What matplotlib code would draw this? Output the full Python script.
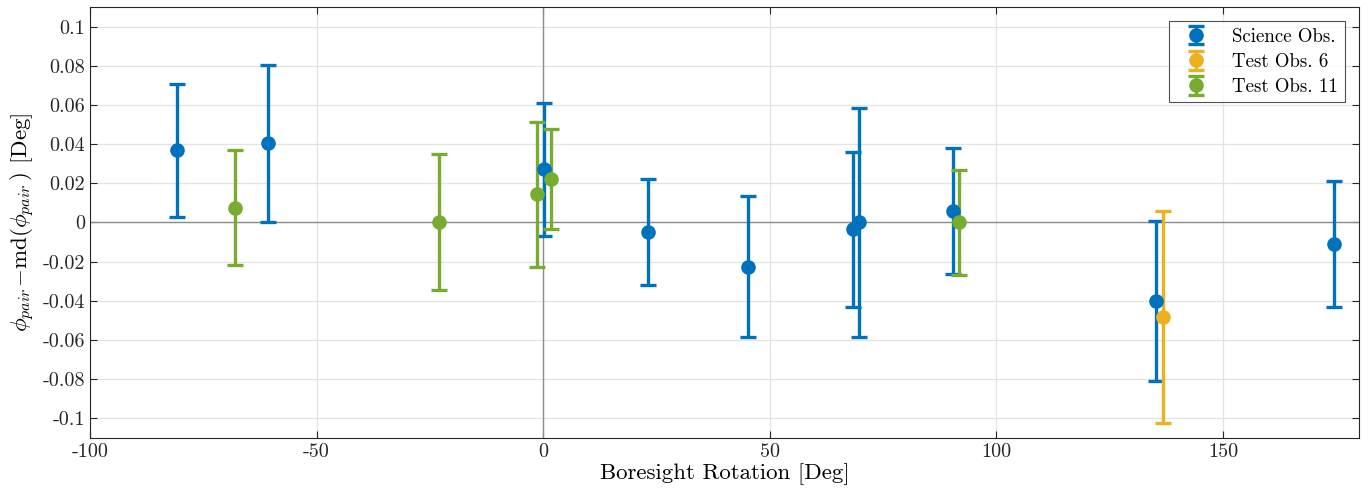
import numpy as np
import matplotlib
matplotlib.use('Agg')
import matplotlib.pyplot as plt
from matplotlib.ticker import FuncFormatter

# Residuals of the pair angle vs. boresight rotation, one array per observation set
sci_rot = [-80.9, -60.8, 0.2, 23.1, 45.2, 68.3, 69.7, 90.4, 135.3, 174.4]
sci_res = [0.0369, 0.0405, 0.0272, -0.0048, -0.0226, -0.0035, 0.0, 0.0058, -0.0400, -0.0110]
sci_err = [0.034, 0.040, 0.034, 0.027, 0.036, 0.0395, 0.0585, 0.032, 0.041, 0.032]

t6_rot = [136.8]
t6_res = [-0.0483]
t6_err = [0.054]

t11_rot = [-67.9, -22.9, -1.4, 1.7, 91.8]
t11_res = [0.0076, 0.0, 0.0143, 0.0222, 0.0]
t11_err = [0.0292, 0.0347, 0.0368, 0.0254, 0.0266]

plt.rcParams['font.family'] = 'cmr10'
plt.rcParams['mathtext.fontset'] = 'cm'
plt.rcParams['axes.unicode_minus'] = False
plt.rcParams['axes.formatter.use_mathtext'] = True

fig = plt.figure(figsize=(13.69, 4.97), dpi=100)
ax = fig.add_axes([0.0657, 0.1187, 0.9270, 0.8673])

style = dict(fmt='o', lw=2.4, capsize=5.5, capthick=2.4, markersize=9.5, zorder=3)
ax.errorbar(sci_rot, sci_res, yerr=sci_err, color='#0072BD', label='Science Obs.', **style)
ax.errorbar(t6_rot, t6_res, yerr=t6_err, color='#EDB120', label='Test Obs. 6', **style)
ax.errorbar(t11_rot, t11_res, yerr=t11_err, color='#77AC30', label='Test Obs. 11', **style)

ax.axhline(0, color='#8c8c8c', lw=1.0, zorder=1)
ax.axvline(0, color='#8c8c8c', lw=1.0, zorder=1)

ax.set_xlim(-100, 180)
ax.set_ylim(-0.11, 0.11)
ax.set_xticks(np.arange(-100, 151, 50))
ax.set_yticks(np.round(np.arange(-0.1, 0.1001, 0.02), 2))
fmt = FuncFormatter(lambda v, pos: f'{np.round(v, 4):g}')
ax.xaxis.set_major_formatter(fmt)
ax.yaxis.set_major_formatter(fmt)

ax.grid(True, color='#e3e3e3', lw=0.9)
ax.set_axisbelow(True)
ax.tick_params(direction='in', top=True, right=True, length=5, width=0.8,
               labelsize=14.5, colors='#262626')
for s in ax.spines.values():
    s.set_color('#262626')
    s.set_linewidth(0.8)

ax.set_xlabel('Boresight Rotation [Deg]', fontsize=16.5, labelpad=2)
ax.set_ylabel(r'$\phi_{pair}\!-\!\mathrm{md}(\phi_{pair}\,)$ [Deg]', fontsize=16.5, labelpad=4)

leg = ax.legend(loc='upper right', fontsize=13.6, frameon=True, fancybox=False,
                edgecolor='#262626', borderaxespad=0.75, handlelength=2.2,
                labelspacing=0.38, borderpad=0.35)
leg.get_frame().set_linewidth(0.8)

fig.savefig('out.png', dpi=100)
